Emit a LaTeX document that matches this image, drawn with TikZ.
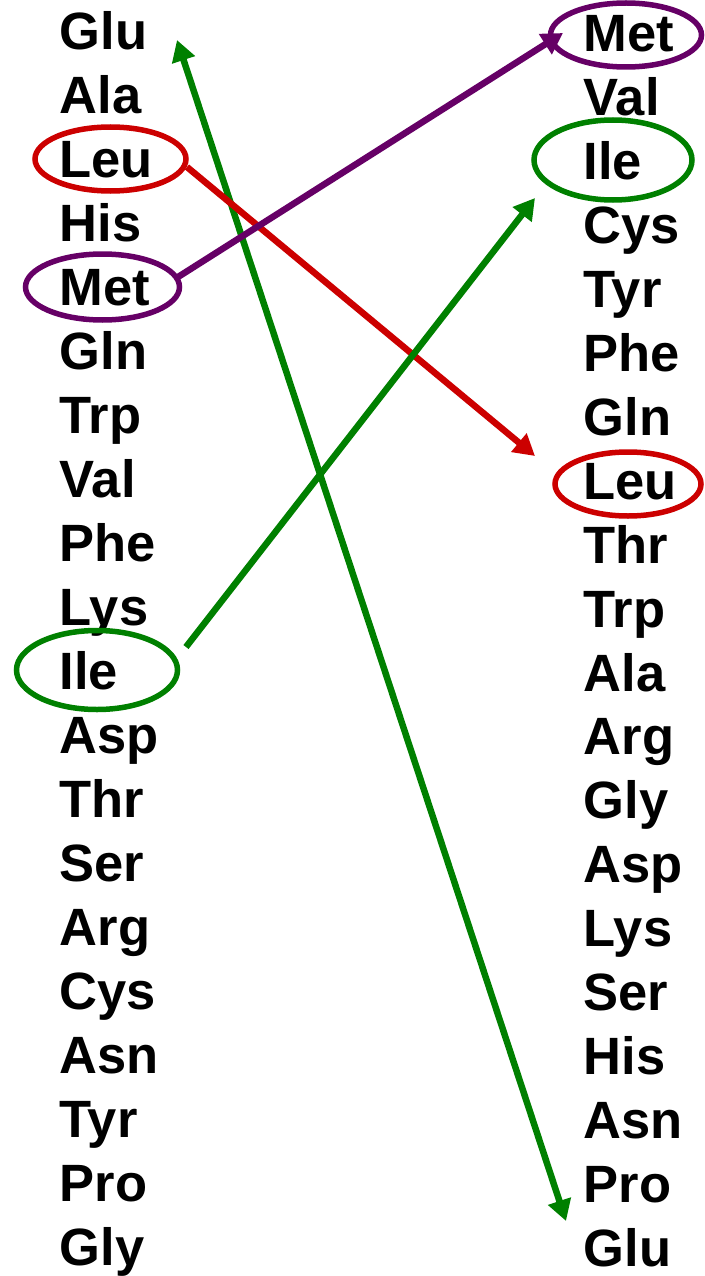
\documentclass[tikz,border=0pt]{standalone}
\usepackage{fontspec}
\setmainfont{Liberation Sans}
\usetikzlibrary{arrows.meta,shapes.geometric}
\definecolor{cgreen}{RGB}{0,128,0}
\definecolor{cred}{RGB}{204,0,0}
\definecolor{cpurple}{RGB}{102,0,102}
\tikzset{
  aa/.style={anchor=base west, inner sep=0pt, font=\fontsize{52.5}{52.5}\selectfont\bfseries},
  ring/.style={draw, ellipse, line width=5.5pt, inner sep=0pt},
  conn/.style={line width=6.5pt, -{Triangle[length=21pt,width=23pt]}},
}
\begin{document}
\begin{tikzpicture}[x=1pt,y=-1pt]
\useasboundingbox (0,0) rectangle (704,1276);
% left column
\foreach \t [count=\i from 0] in {Glu,Ala,Leu,His,Met,Gln,Trp,Val,Phe,Lys,Ile,Asp,Thr,Ser,Arg,Cys,Asn,Tyr,Pro,Gly}
  \node[aa] (L\i) at (59.5,{49.5+64*\i}) {\t};
% right column
\foreach \t [count=\i from 0] in {Met,Val,Ile,Cys,Tyr,Phe,Gln,Leu,Thr,Trp,Ala,Arg,Gly,Asp,Lys,Ser,His,Asn,Pro,Glu}
  \node[aa] (R\i) at (583.5,{52+63.9*\i}) {\t};
% ellipses
\node[ring, cred, minimum width=151pt, minimum height=64pt] (eLeuL) at (110.5,159) {};
\node[ring, cpurple, minimum width=154pt, minimum height=66pt] (eMetL) at (102.5,287) {};
\node[ring, cgreen, minimum width=161pt, minimum height=79pt] (eIleL) at (97,670) {};
\node[ring, cpurple, minimum width=151pt, minimum height=64pt] (eMetR) at (626,35) {};
\node[ring, cgreen, minimum width=158pt, minimum height=80pt] (eIleR) at (613,160) {};
\node[ring, cred, minimum width=146pt, minimum height=64pt] (eLeuR) at (628,484) {};
% connector end points
\coordinate (gTop) at (177,40);
\coordinate (gBot) at (566,1221);
\coordinate (rS) at (187,167);
\coordinate (rE) at (535,456);
\coordinate (pS) at (178,277);
\coordinate (pE) at (563,33);
\coordinate (iS) at (186,647);
\coordinate (iE) at (535,198);
% connectors
\draw[conn, cgreen, {Triangle[length=21pt,width=23pt]}-{Triangle[length=21pt,width=23pt]}] (gTop) -- (gBot);
\draw[conn, cred] (rS) -- (rE);
\draw[conn, cpurple] (pS) -- (pE);
\draw[conn, cgreen] (iS) -- (iE);
\end{tikzpicture}
\end{document}
